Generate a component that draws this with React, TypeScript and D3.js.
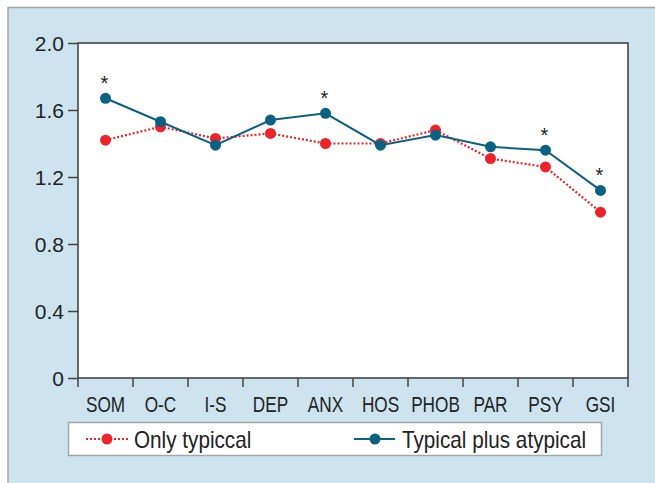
import { useEffect, useRef } from "react"
import * as d3 from "d3"

const categories = ["SOM", "O-C", "I-S", "DEP", "ANX", "HOS", "PHOB", "PAR", "PSY", "GSI"]
const onlyTypical = [1.42, 1.5, 1.43, 1.46, 1.4, 1.4, 1.48, 1.31, 1.26, 0.99]
const typicalPlusAtypical = [1.67, 1.53, 1.39, 1.54, 1.58, 1.39, 1.45, 1.38, 1.36, 1.12]
const significant = ["SOM", "ANX", "PSY", "GSI"]
const yTicks = [0, 0.4, 0.8, 1.2, 1.6, 2.0]
const seriesNames = ["Only typiccal", "Typical plus atypical"]

const RED = "#ee2229"
const BLUE = "#0b6182"
const AXIS = "#454545"
const TEXT = "#222222"
const FONT = "'Liberation Sans', Arial, sans-serif"

export default function App() {
  const svgRef = useRef<SVGSVGElement>(null)

  useEffect(() => {
    if (!svgRef.current) return
    const svg = d3.select(svgRef.current)
    svg.selectAll("*").remove()

    const width = 655
    const height = 483
    const left = 78
    const right = 628
    const top = 43
    const bottom = 378

    // Panel background
    svg.append("rect").attr("x", 0).attr("y", 0).attr("width", width).attr("height", height).attr("fill", "#ffffff")
    svg.append("rect").attr("x", 8).attr("y", 7).attr("width", width - 8).attr("height", height - 7).attr("fill", "#cde4ef")
    svg.append("line").attr("x1", 8).attr("x2", width).attr("y1", 7.5).attr("y2", 7.5).attr("stroke", "#a3a3a3").attr("stroke-width", 1.5)
    svg.append("line").attr("x1", 8).attr("x2", 8).attr("y1", 7).attr("y2", height).attr("stroke", "#a3a3a3").attr("stroke-width", 1.5)

    const x = d3.scaleBand().domain(categories).range([left, right])
    const y = d3.scaleLinear().domain([0, 2]).range([bottom, top])
    const cx = (d: string) => (x(d) || 0) + x.bandwidth() / 2

    // Plot area
    svg.append("rect")
      .attr("x", left)
      .attr("y", top)
      .attr("width", right - left)
      .attr("height", bottom - top)
      .attr("fill", "#ffffff")
      .attr("stroke", AXIS)
      .attr("stroke-width", 1.6)

    // y axis
    const yAxis = svg.append("g")
      .attr("transform", `translate(${left},0)`)
      .call(d3.axisLeft(y).tickValues(yTicks).tickSize(10).tickPadding(4).tickFormat((d) => (d === 0 ? "0" : d3.format(".1f")(d as number))))
    yAxis.select(".domain").remove()
    yAxis.selectAll(".tick line").attr("stroke", AXIS).attr("stroke-width", 1.5)
    yAxis.selectAll(".tick text")
      .attr("fill", TEXT)
      .attr("font-family", FONT)
      .attr("font-size", "21px")
      .attr("dy", "0.36em")

    // x axis ticks at band edges
    const edges = categories.map((c) => x(c) || 0).concat([right])
    svg.append("g")
      .selectAll("line")
      .data(edges)
      .enter()
      .append("line")
      .attr("x1", (d) => d)
      .attr("x2", (d) => d)
      .attr("y1", bottom)
      .attr("y2", bottom + 9)
      .attr("stroke", AXIS)
      .attr("stroke-width", 1.5)

    // condensed category labels
    svg.append("g")
      .selectAll("text")
      .data(categories)
      .enter()
      .append("text")
      .attr("transform", (d) => `translate(${cx(d)},412) scale(0.8,1)`)
      .attr("text-anchor", "middle")
      .attr("fill", TEXT)
      .attr("font-family", FONT)
      .attr("font-size", "21.5px")
      .text((d) => d)

    // Lines
    const line = d3
      .line<number>()
      .x((_, i) => cx(categories[i]))
      .y((d) => y(d))

    svg.append("path")
      .datum(onlyTypical)
      .attr("fill", "none")
      .attr("stroke", RED)
      .attr("stroke-width", 2.2)
      .attr("stroke-dasharray", "2,2")
      .attr("d", line)

    svg.append("g")
      .selectAll("circle")
      .data(onlyTypical)
      .enter()
      .append("circle")
      .attr("cx", (_, i) => cx(categories[i]))
      .attr("cy", (d) => y(d))
      .attr("r", 5.5)
      .attr("fill", RED)

    svg.append("path")
      .datum(typicalPlusAtypical)
      .attr("fill", "none")
      .attr("stroke", BLUE)
      .attr("stroke-width", 2)
      .attr("d", line)

    svg.append("g")
      .selectAll("circle")
      .data(typicalPlusAtypical)
      .enter()
      .append("circle")
      .attr("cx", (_, i) => cx(categories[i]))
      .attr("cy", (d) => y(d))
      .attr("r", 5.5)
      .attr("fill", BLUE)

    // Significance markers
    svg.append("g")
      .selectAll("text")
      .data(significant)
      .enter()
      .append("text")
      .attr("x", (d) => cx(d) - 1)
      .attr("y", (d) => y(typicalPlusAtypical[categories.indexOf(d)]) - 8)
      .attr("text-anchor", "middle")
      .attr("fill", TEXT)
      .attr("font-family", FONT)
      .attr("font-size", "20px")
      .text("*")

    // Legend
    const legend = svg.append("g")
    legend.append("rect")
      .attr("x", 68.5)
      .attr("y", 422.5)
      .attr("width", 533)
      .attr("height", 33)
      .attr("fill", "#ffffff")
      .attr("stroke", "#a6a6a6")
      .attr("stroke-width", 1.5)

    const legendItems = [
      { name: seriesNames[0], color: RED, dash: "2,2", x0: 86, x1: 128, dot: 107, tx: 134 },
      { name: seriesNames[1], color: BLUE, dash: null, x0: 354, x1: 395, dot: 375, tx: 402 },
    ]
    legendItems.forEach((it) => {
      legend.append("line")
        .attr("x1", it.x0)
        .attr("x2", it.x1)
        .attr("y1", 439)
        .attr("y2", 439)
        .attr("stroke", it.color)
        .attr("stroke-width", 2)
        .attr("stroke-dasharray", it.dash)
      legend.append("circle").attr("cx", it.dot).attr("cy", 439).attr("r", 5.5).attr("fill", it.color)
      legend.append("text")
        .attr("transform", `translate(${it.tx},447.5) scale(0.9,1)`)
        .attr("fill", TEXT)
        .attr("font-family", FONT)
        .attr("font-size", "23px")
        .text(it.name)
    })
  }, [])

  return (
    <svg
      ref={svgRef}
      width={655}
      height={483}
      style={{ position: "absolute", left: 0, top: 0, display: "block" }}
    />
  )
}
